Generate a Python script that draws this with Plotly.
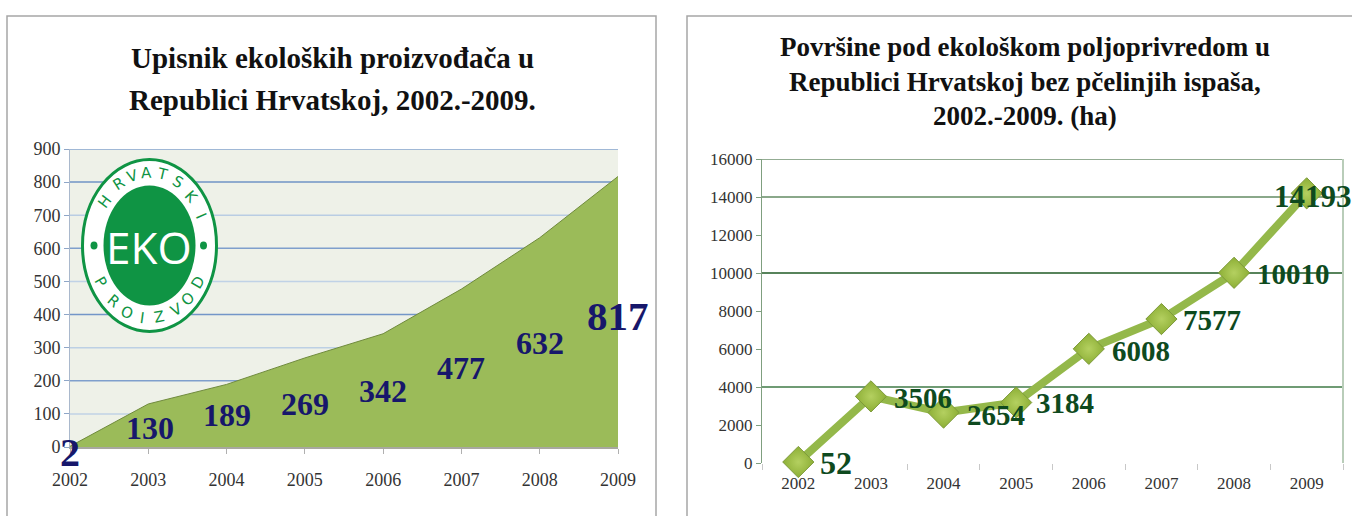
from __future__ import annotations

import numpy as np
import plotly.graph_objects as go

W, H = 1352, 516

years = ["2002", "2003", "2004", "2005", "2006", "2007", "2008", "2009"]
producers = [2, 130, 189, 269, 342, 477, 632, 817]
hectares = [52, 3506, 2654, 3184, 6008, 7577, 10010, 14193]

left_ticks = [0, 100, 200, 300, 400, 500, 600, 700, 800, 900]
right_ticks = [0, 2000, 4000, 6000, 8000, 10000, 12000, 14000, 16000]

left_title = ["Upisnik ekoloških proizvođača u", "Republici Hrvatskoj, 2002.-2009."]
right_title = ["Površine pod ekološkom poljoprivredom u",
               "Republici Hrvatskoj bez pčelinjih ispaša,",
               "2002.-2009. (ha)"]

# where the value labels sit relative to their points, in pixels
left_dx = [0, 2, 0, 0, 0, 0, 0, 0]
left_dy = [-6, -24, -31, -46, -57, -79, -105, -140]
left_size = [40, 32, 32, 32, 32, 32, 32, 41]
right_dx = [38, 52, 52, 49, 52, 51, 59, 6]
right_dy = [-1, -2, -2, 0, -2, -1, -1, -3]
right_size = [32, 29, 29, 29, 29, 29, 29, 31]

left_grid = {900: "#86a5d0", 800: "#6f93c6", 700: "#b9cde3", 600: "#7f9fcc", 500: "#c0d2e6",
             400: "#7396c8", 300: "#bcd0e4", 200: "#7f9fcc", 100: "#c0d2e6"}
right_grid = {16000: ("#6f916f", 1.5), 14000: ("#8aa88a", 2), 10000: ("#1f5a24", 1.5), 4000: ("#3f7a46", 1.5)}

SERIF = "Liberation Serif"


def px(x):
    return x / W


def py(y):
    return 1 - y / H


def paper_text(fig, text, x, y, font, angle=0):
    fig.add_annotation(text=text, xref="paper", yref="paper", x=px(x), y=py(y), showarrow=False,
                       xanchor="center", yanchor="middle", textangle=angle, font=font)


fig = go.Figure()

fig.add_trace(go.Scatter(
    x=years, y=producers, mode="lines", fill="tozeroy", fillcolor="#9BBB59",
    line=dict(color="#6f8a3c", width=1), xaxis="x", yaxis="y", hoverinfo="skip",
))
fig.add_trace(go.Scatter(
    x=years, y=hectares, mode="lines+markers", xaxis="x2", yaxis="y2", cliponaxis=False,
    line=dict(color="#94B84A", width=8),
    marker=dict(symbol="diamond", size=24, color="#8DAF36",
                gradient=dict(type="radial", color="#B4D060"),
                line=dict(color="#7d9a3a", width=1)),
))

fig.update_layout(
    width=W, height=H, margin=dict(l=0, r=0, t=0, b=0), showlegend=False,
    paper_bgcolor="white", plot_bgcolor="rgba(0,0,0,0)",
    xaxis=dict(domain=[px(70), px(618)], type="category", range=[0, 7], anchor="y", automargin=False,
               showgrid=False, ticks="outside", ticklen=5, tickcolor="#b0b0b0", ticklabelstandoff=10,
               tickfont=dict(family=SERIF, size=18, color="#333333"),
               showline=True, linecolor="#a8a8a0", linewidth=2),
    yaxis=dict(domain=[py(447), py(149)], range=[0, 900], tickvals=left_ticks, anchor="x", automargin=False,
               showgrid=False, zeroline=False, ticks="outside", ticklen=5, tickcolor="#8ea6c8",
               showline=True, linecolor="#a9b8cc",
               tickfont=dict(family=SERIF, size=18, color="#333333")),
    xaxis2=dict(domain=[px(762), px(1343)], type="category", range=[-0.5, 7.5], anchor="y2", automargin=False,
                showgrid=False, ticks="outside", tickson="boundaries", ticklen=6, tickcolor="#c8c8c8",
                ticklabelstandoff=8, tickfont=dict(family=SERIF, size=17, color="#333333")),
    yaxis2=dict(domain=[py(463), py(159)], range=[0, 16000], tickvals=right_ticks, tickformat="d", anchor="x2",
                automargin=False, showgrid=False, zeroline=False, ticks="outside", ticklen=5, tickcolor="#7f9f7f",
                showline=True, linecolor="#7f9f7f",
                tickfont=dict(family=SERIF, size=17, color="#333333")),
)

# panel frames
for x0, x1 in [(7, 656), (687, 1360)]:
    fig.add_shape(type="rect", xref="paper", yref="paper", x0=px(x0), x1=px(x1), y0=py(530), y1=py(16),
                  line=dict(color="#a6a6a6", width=1.5), fillcolor="rgba(0,0,0,0)", layer="below")

# plot background and gridlines
fig.add_shape(type="rect", xref="x domain", yref="y domain", x0=0, x1=1, y0=0, y1=1,
              fillcolor="#EEF1E8", line_width=0, layer="below")
for val, col in left_grid.items():
    fig.add_shape(type="line", xref="x domain", yref="y", x0=0, x1=1, y0=val, y1=val,
                  line=dict(color=col, width=1.5), layer="below")
for val, (col, lw) in right_grid.items():
    fig.add_shape(type="line", xref="x2 domain", yref="y2", x0=0, x1=1, y0=val, y1=val,
                  line=dict(color=col, width=lw), layer="below")
fig.add_shape(type="line", xref="x2 domain", yref="y2", x0=1, x1=1, y0=0, y1=16000,
              line=dict(color="#b9cdb9", width=2), layer="below")

# EKO logo
GREEN = "#0F9444"
cx, cy = 149.5, 245.5
for rx, ry, fill, line_col, lw in [(67, 86, "white", GREEN, 3), (46, 60, GREEN, GREEN, 0)]:
    fig.add_shape(type="circle", xref="paper", yref="paper", x0=px(cx - rx), x1=px(cx + rx),
                  y0=py(cy + ry), y1=py(cy - ry), fillcolor=fill, line=dict(color=line_col, width=lw))
for dot_x in (94, 203.5):
    fig.add_shape(type="circle", xref="paper", yref="paper", x0=px(dot_x - 3.5), x1=px(dot_x + 3.5),
                  y0=py(cy + 4), y1=py(cy - 4), fillcolor=GREEN, line_width=0)
paper_text(fig, "EKO", 149, 247, dict(family="Open Sans", size=44, color="white"))

ring_top = np.array([-143, -123, -107, -93, -77, -60, -42, -24], dtype=float)
ring_bottom = np.array([150, 130, 113, 98, 80, 62, 47, 30], dtype=float)
for word, angles in [("HRVATSKI", ring_top), ("PROIZVOD", ring_bottom)]:
    for ch, deg in zip(word, angles):
        a = np.radians(deg)
        rot = deg + 90 if deg < 0 else deg - 90
        paper_text(fig, ch, cx + 56.5 * np.cos(a), cy + 73 * np.sin(a),
                   dict(family="DejaVu Sans", size=15, color=GREEN), rot)

# value labels
for i in range(len(years)):
    fig.add_annotation(text=f"<b>{producers[i]}</b>", x=i, y=producers[i], xref="x", yref="y", showarrow=False,
                       xshift=left_dx[i], yshift=left_dy[i],
                       font=dict(family=SERIF, size=left_size[i], color="#17176B"))
    fig.add_annotation(text=f"<b>{hectares[i]}</b>", x=i, y=hectares[i], xref="x2", yref="y2", showarrow=False,
                       xshift=right_dx[i], yshift=right_dy[i],
                       font=dict(family=SERIF, size=right_size[i], color="#0E4A1E"))

# titles, one annotation per line to hold the wide line spacing
for line, y in zip(left_title, [58, 100]):
    paper_text(fig, f"<b>{line}</b>", 332, y, dict(family=SERIF, size=29, color="#111111"))
for line, y in zip(right_title, [47, 82, 116]):
    paper_text(fig, f"<b>{line}</b>", 1025, y, dict(family=SERIF, size=27, color="#111111"))

fig.write_html("out.html", config=dict(displayModeBar=False),
               post_script="document.body.style.margin='0';document.body.style.overflow='hidden';")
